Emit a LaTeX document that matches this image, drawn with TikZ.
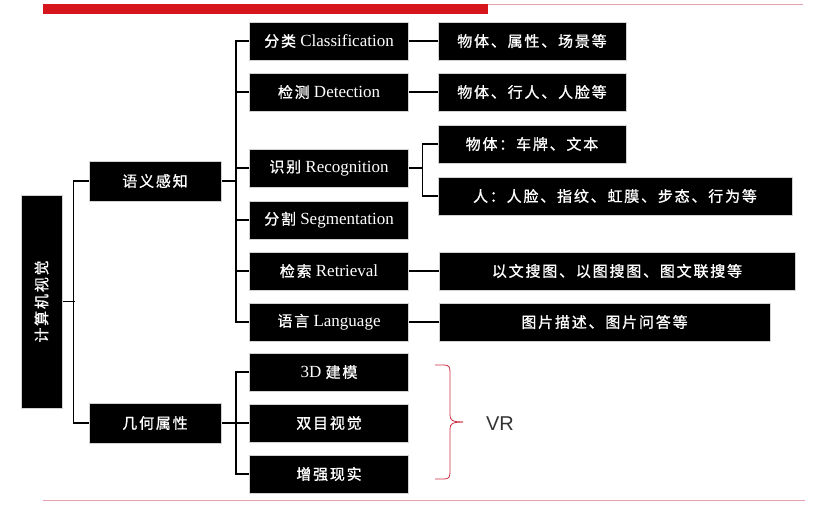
\documentclass[tikz,border=0pt]{standalone}
\usepackage{fontspec}
\setmainfont{Liberation Serif}
\newfontfamily\cjk[LetterSpace=12,FakeBold=1]{Noto Sans CJK SC}
\newfontfamily\vrfont{Liberation Sans}
\usepackage{tikz}
\usetikzlibrary{calc}
\definecolor{barred}{RGB}{214,22,28}
\definecolor{linepink}{RGB}{228,160,172}
\definecolor{bracered}{RGB}{205,45,65}
\newcommand{\zh}[1]{{\cjk\fontsize{15}{18}\selectfont #1}}
\tikzset{
  box/.style={fill=black, draw=gray!35, line width=1pt, text=white, inner sep=0pt,
    minimum height=38pt, font=\fontsize{17}{20}\selectfont},
  lvtwo/.style={box, minimum width=159pt},
  lvthree/.style={box, minimum width=#1},
  conn/.style={line width=1.8pt},
}

\begin{document}
\begin{tikzpicture}
\begin{scope}[x=1pt, y=-1pt]
\useasboundingbox (0,0) rectangle (835,506);

\fill[barred](43,4)rectangle(488,14);
\draw[linepink, line width=0.8pt](488,4.5)to(803,4.5);
\draw[linepink, line width=1.2pt](43,500.5)to(805,500.5);

\node[box, minimum width=41pt, minimum height=213pt] (root) at (41.5,301.5) {\rotatebox{90}{\zh{计算机视觉}}};

\node[box, minimum width=132pt, minimum height=40pt] (sem) at (155,181) {\zh{语义感知}};
\node[box, minimum width=132pt, minimum height=40pt] (geo) at (155,423) {\zh{几何属性}};

\node[lvtwo] (cls) at (329,41) {\zh{分类} Classification};
\node[lvtwo] (det) at (329,92) {\zh{检测} Detection};
\node[lvtwo] (rec) at (329,168) {\zh{识别} Recognition};
\node[lvtwo] (seg) at (329,220) {\zh{分割} Segmentation};
\node[lvtwo] (ret) at (329,271) {\zh{检索} Retrieval};
\node[lvtwo] (lan) at (329,322) {\zh{语言} Language};
\node[lvtwo] (m3d) at (329,372) {3D \zh{建模}};
\node[lvtwo] (bin) at (329,423) {\zh{双目视觉}};
\node[lvtwo] (ar) at (329,474) {\zh{增强现实}};

\node[lvthree=188pt] (cls3) at (532,41) {\zh{物体、属性、场景等}};
\node[lvthree=188pt] (det3) at (532,92) {\zh{物体、行人、人脸等}};
\node[lvthree=188pt] (reca) at (532,144) {\zh{物体：车牌、文本}};
\node[lvthree=354pt] (recb) at (615,196) {\zh{人：人脸、指纹、虹膜、步态、行为等}};
\node[lvthree=356pt] (ret3) at (617,271) {\zh{以文搜图、以图搜图、图文联搜等}};
\node[lvthree=331pt] (lan3) at (604.5,322) {\zh{图片描述、图片问答等}};

\draw[conn](root.east)--++(12,0);
\draw[conn](sem.west)--++(-15,0)|-(geo.west);

\draw[conn](sem.east)--++(15,0);
\draw[conn](cls.west)--++(-13,0)|-(lan.west);
\foreach \n in {det,rec,seg,ret}
  \draw[conn](\n.west)--++(-13,0);

\draw[conn](geo.east)--++(15,0);
\draw[conn](m3d.west)--++(-13,0)|-(ar.west);
\draw[conn](bin.west)--++(-13,0);

\draw[conn](cls.east)--(cls3.west);
\draw[conn](det.east)--(det3.west);
\draw[conn](ret.east)--(ret3.west);
\draw[conn](lan.east)--(lan3.west);
\draw[conn](rec.east)--++(14,0);
\draw[conn](reca.west)--++(-15,0)|-(recb.west);

\node[font=\vrfont\fontsize{20}{24}\selectfont, text=black!80] (vr) at (500,424) {VR};
\draw[bracered, line width=0.8pt](435,365)--(444,365) .. controls (449,365) and (450,367) .. (450,372)--(450,415) .. controls (450,420) and (452,422) .. (463,422);
\draw[bracered, line width=0.8pt](435,479)--(444,479) .. controls (449,479) and (450,477) .. (450,472)--(450,429) .. controls (450,424) and (452,422) .. (463,422);

\end{scope}
\end{tikzpicture}
\end{document}
